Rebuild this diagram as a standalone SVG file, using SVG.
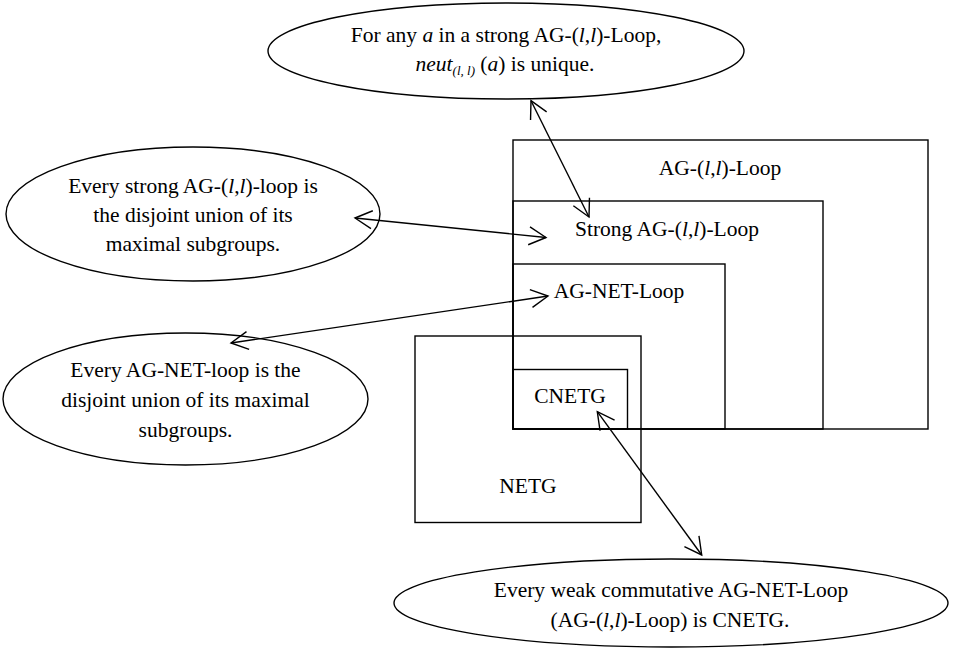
<svg xmlns="http://www.w3.org/2000/svg" width="953" height="652" viewBox="0 0 953 652">
<style>
  text { font-family: "Liberation Serif", "Times New Roman", serif; font-size: 21.5px; fill: #000; text-anchor: middle; }
  .i { font-style: italic; }
  .box { fill: none; stroke: #000; stroke-width: 1.4; }
  .ell { fill: #fff; stroke: #000; stroke-width: 1.4; }
  .con { stroke: #000; stroke-width: 1.4; fill: none; marker-start: url(#arr); marker-end: url(#arr); }
</style>
<defs>
  <marker id="arr" viewBox="-20 -12 24 24" refX="0" refY="0" markerWidth="24" markerHeight="24" markerUnits="userSpaceOnUse" orient="auto-start-reverse">
    <path d="M-17,-9 L0,0 L-17,9" fill="none" stroke="#000" stroke-width="1.4"/>
  </marker>
</defs>
<rect width="953" height="652" fill="#fff"/>

<g id="node-ag-loop">
  <rect class="box" x="513" y="140" width="415" height="289"/>
  <text x="720" y="175">AG-(<tspan class="i">l</tspan>,<tspan class="i">l</tspan>)-Loop</text>
</g>
<g id="node-strong">
  <rect class="box" x="513" y="201" width="310" height="228"/>
  <text x="667" y="236">Strong AG-(<tspan class="i">l</tspan>,<tspan class="i">l</tspan>)-Loop</text>
</g>
<g id="node-agnet">
  <rect class="box" x="513" y="264" width="212" height="165"/>
  <text x="619" y="298">AG-NET-Loop</text>
</g>
<g id="node-netg">
  <rect class="box" x="415" y="336" width="226" height="186.5"/>
  <text x="528" y="493">NETG</text>
</g>
<g id="node-cnetg">
  <rect class="box" x="513" y="369.5" width="114.5" height="59.5"/>
  <text x="570" y="403">CNETG</text>
</g>

<g id="node-top-ellipse">
  <ellipse class="ell" cx="506" cy="51" rx="238" ry="48"/>
  <text x="506" y="42">For any <tspan class="i">a</tspan> in a strong AG-(<tspan class="i">l</tspan>,<tspan class="i">l</tspan>)-Loop,</text>
  <text x="505" y="71"><tspan class="i">neut</tspan><tspan class="i" font-size="13" dy="4">(l, l)</tspan><tspan dy="-4"> (</tspan><tspan class="i">a</tspan>) is unique.</text>
</g>
<g id="node-left-ellipse-1">
  <ellipse class="ell" cx="193" cy="214" rx="187" ry="67"/>
  <text x="193" y="193">Every strong AG-(<tspan class="i">l</tspan>,<tspan class="i">l</tspan>)-loop is</text>
  <text x="193" y="222">the disjoint union of its</text>
  <text x="193" y="251">maximal subgroups.</text>
</g>
<g id="node-left-ellipse-2">
  <ellipse class="ell" cx="185.5" cy="399" rx="182.5" ry="66"/>
  <text x="185.5" y="377">Every AG-NET-loop is the</text>
  <text x="185.5" y="407">disjoint union of its maximal</text>
  <text x="185.5" y="437">subgroups.</text>
</g>
<g id="node-bottom-ellipse">
  <ellipse class="ell" cx="671" cy="603" rx="277" ry="44"/>
  <text x="671" y="597">Every weak commutative AG-NET-Loop</text>
  <text x="670" y="627">(AG-(<tspan class="i">l</tspan>,<tspan class="i">l</tspan>)-Loop) is CNETG.</text>
</g>

<g id="connectors">
  <line class="con" x1="531" y1="100.7" x2="589" y2="217"/>
  <line class="con" x1="355" y1="218" x2="546" y2="237.5"/>
  <line class="con" x1="231" y1="343" x2="548" y2="296"/>
  <line class="con" x1="597.3" y1="411.7" x2="701.7" y2="555"/>
</g>
</svg>
